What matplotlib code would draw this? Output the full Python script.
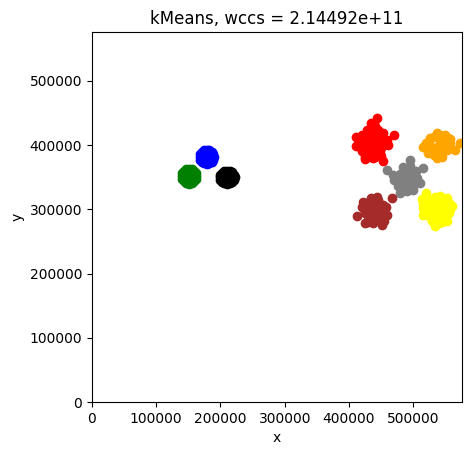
import matplotlib
matplotlib.use("Agg")
import matplotlib.pyplot as plt

red_x = [443100, 433700, 427500, 410900, 470100, 410400, 453500, 437900, 422300, 437900, 453500, 461300, 424900, 437900, 453500, 419700, 448300, 432700, 430100, 445700,
         420000, 420000, 420000, 430000, 430000, 430000, 430000, 440000, 440000, 440000, 440000, 450000, 450000, 450000, 460000, 425000, 445000, 435000, 415000, 440000]
red_y = [441900, 434100, 423700, 412300, 414900, 398800, 418500, 421100, 402900, 402900, 402900, 400300, 381100, 379600, 375400, 392500, 387400, 390000, 413300, 410700,
         415000, 400000, 390000, 420000, 410000, 395000, 385000, 412000, 400000, 390000, 382000, 410000, 395000, 383000, 408000, 378000, 423000, 427000, 405000, 430000]

orange_x = [536500, 549500, 526100, 514700, 536500, 523500, 557300, 572800, 565100, 552100, 536500, 541700, 554700,
            525000, 525000, 532000, 532000, 532000, 542000, 542000, 542000, 550000, 550000, 558000, 520000, 545000]
orange_y = [418500, 415900, 410700, 397700, 379600, 387400, 402900, 402900, 392500, 392500, 397700, 408100, 410700,
            402000, 393000, 412000, 392000, 384000, 415000, 398000, 386000, 404000, 396000, 410000, 403000, 382000]

gray_x = [458700, 469000, 495000, 514700, 484600, 510600, 479400, 489800, 476800, 489800, 500200, 474200, 505400,
          480000, 480000, 480000, 490000, 490000, 500000, 500000, 495000, 470000, 505000, 485000, 500000, 500000, 490000]
gray_y = [361400, 353600, 377000, 364000, 366600, 340700, 325100, 327700, 335500, 351000, 358800, 348400, 348400,
          355000, 345000, 335000, 360000, 340000, 345000, 335000, 368000, 345000, 360000, 330000, 352000, 330000, 333000]

yellow_x = [519900, 513200, 515800, 533900, 552100, 559900, 552100, 533900, 536500, 515800, 546900, 523500,
            525000, 525000, 525000, 535000, 535000, 545000, 545000, 555000, 530000, 540000, 550000, 515000, 545000, 542000,
            555000, 558000, 530000]
yellow_y = [325100, 316300, 291300, 274200, 281000, 305400, 317300, 319900, 299100, 301700, 291300, 309500,
            315000, 300000, 290000, 310000, 285000, 310000, 300000, 295000, 295000, 278000, 290000, 308000, 280000, 320000,
            310000, 300000, 282000]

brown_x = [443100, 466400, 411900, 422300, 419700, 424900, 450900, 458700, 437900, 432700, 453500, 437900,
           430000, 430000, 430000, 440000, 440000, 440000, 450000, 450000, 425000, 445000, 455000, 435000, 445000, 428000,
           424000, 458000, 455000]
brown_y = [319900, 317300, 288800, 312100, 304300, 278400, 275800, 291300, 293900, 309500, 306900, 278400,
           300000, 290000, 280000, 310000, 300000, 285000, 300000, 285000, 295000, 292000, 298000, 318000, 315000, 310000,
           300000, 303000, 282000]

blue_x = [189500, 186500, 178500, 170500, 167500, 170500, 178500, 186500, 178500, 173000, 184000, 178000, 179000,
          188700, 182700, 174300, 168300, 168300, 174300, 182700, 188700]
blue_y = [381500, 389000, 392500, 389500, 381500, 373500, 370500, 373500, 381500, 381000, 382000, 387000, 376000,
          385700, 391700, 391700, 385700, 377300, 371300, 371300, 377300]

green_x = [162500, 159000, 151000, 143000, 139500, 143000, 151000, 159000, 151000, 145500, 157000, 151000, 151000,
           161600, 155400, 146600, 140400, 140400, 146600, 155400, 161600]
green_y = [351500, 359500, 363000, 359500, 351500, 343500, 340000, 343500, 351500, 352000, 351000, 357000, 346000,
           355900, 362100, 362100, 355900, 347100, 340900, 340900, 347100]

black_x = [222000, 218500, 210500, 202500, 199000, 202500, 210500, 218500, 210500, 205000, 216000, 210500, 210500,
           221100, 214900, 206100, 199900, 199900, 206100, 214900, 221100]
black_y = [350000, 357500, 360000, 357000, 350000, 342500, 340000, 342500, 350000, 350000, 350000, 355000, 345000,
           353800, 359200, 359200, 353800, 346200, 340800, 340800, 346200]

clusters = [
    (red_x, red_y, "red"),
    (orange_x, orange_y, "orange"),
    (gray_x, gray_y, "gray"),
    (yellow_x, yellow_y, "yellow"),
    (brown_x, brown_y, "brown"),
    (blue_x, blue_y, "blue"),
    (green_x, green_y, "green"),
    (black_x, black_y, "black"),
]

fig = plt.figure(figsize=(4.71, 4.55), dpi=100)
ax = fig.add_axes([92 / 471, 1 - 402 / 455, 370 / 471, 370 / 455])
for xs, ys, colour in clusters:
    ax.scatter(xs, ys, c=colour)

ax.set_xlim(0, 576000)
ax.set_ylim(0, 576000)
ax.set_xticks([0, 100000, 200000, 300000, 400000, 500000])
ax.set_yticks([0, 100000, 200000, 300000, 400000, 500000])
ax.set_title("kMeans, wccs = 2.14492e+11")
ax.set_xlabel("x")
ax.set_ylabel("y")

fig.savefig("out.png", dpi=100)
